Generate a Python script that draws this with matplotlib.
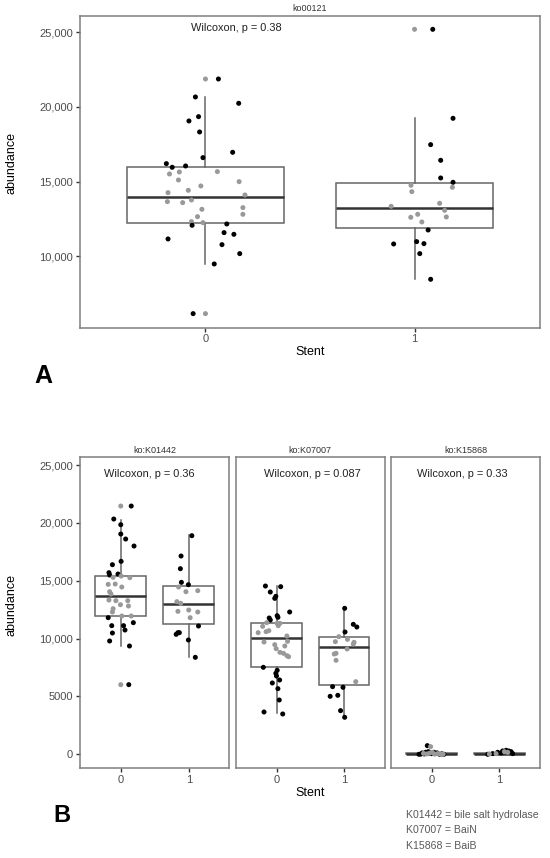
import matplotlib
matplotlib.use('Agg')
import matplotlib.pyplot as plt
from matplotlib.ticker import FixedLocator

plt.rcParams['font.family'] = ['Liberation Sans', 'DejaVu Sans']

# ---- data ----
# panel A : ko00121   (jitter offset, abundance, colour group: 'b' black / 'g' grey)
a0_jit = [0.000, 0.062, -0.048, 0.159, -0.033, -0.079, -0.028, -0.012, 0.130, -0.187, -0.159, -0.095,
          -0.172, -0.125, -0.129, 0.057, 0.161, -0.022, -0.082, -0.179, 0.189, -0.182, -0.109, -0.067,
          -0.017, 0.179, 0.179, -0.038, -0.067, -0.012, -0.064, 0.102, -0.179, 0.089, 0.136, 0.079,
          0.164, 0.042, -0.059, 0.000]
a0_val = [21874, 21874, 20670, 20245, 19352, 19062, 18326, 16607, 16964, 16205, 15960, 16049,
          15513, 15647, 15111, 15670, 15000, 14710, 14419, 14263, 14107, 13660, 13594, 13772,
          13147, 13259, 12812, 12656, 12321, 12254, 12076, 12165, 11161, 11585, 11473, 10781,
          10179, 9487, 6161, 6161]
a0_grp = list('gbbbbbbbbbbb' + 'gggggggggggg' + 'gggggg' + 'bbbbbbbbb' + 'g')
a1_jit = [0.000, 0.087, 0.184, 0.077, 0.125, 0.125, 0.184, -0.017, -0.013, 0.181, -0.112, 0.120,
          0.144, 0.015, -0.018, 0.152, 0.035, 0.065, 0.010, 0.045, -0.100, 0.025, 0.077]
a1_val = [25200, 25200, 19240, 17477, 16428, 15245, 14955, 14754, 14330, 14620, 13348, 13549,
          13080, 12812, 12611, 12634, 12299, 11763, 10982, 10848, 10826, 10179, 8460]
a1_grp = list('gbbbbbb' + 'gggggggggg' + 'bbbbbb')
# box stats: q1, median, q3, lower whisker, upper whisker
a_box = [(12250, 13950, 15957, 9485, 20643), (11894, 13213, 14886, 8480, 19237)]

# panel B1 : ko:K01442
b10_jit = [0, 0.154, -0.103, 0, 0, 0.072, 0.195, 0.005, -0.123, -0.174, -0.041, -0.164,
           -0.113, 0.005, 0.133, -0.185, -0.082, 0.015, -0.164, -0.144, -0.174, -0.072, 0.103,
           -0.005, 0.113, -0.113, -0.123, 0.015, 0.154,
           -0.185, -0.133, 0.041, 0.185, 0.062, -0.123, -0.164, 0.128, 0.118, 0]
b10_val = [21456, 21456, 20333, 19843, 19037, 18605, 18000, 16675, 16387, 15696, 15581, 15494,
           15293, 15408, 15264, 14688, 14717, 14458, 14054, 13853, 13334, 13277, 13277,
           12931, 12816, 12586, 12298, 11952, 11952,
           11808, 11117, 11117, 11376, 10742, 10483, 9792, 9360, 6019, 6019]
b10_grp = list('gbbbbbbbbbbb' + 'ggggggggggggggggg' + 'bbbbbbbbb' + 'g')
b11_jit = [0.046, -0.113, -0.123, -0.108, -0.005, -0.149, -0.041, 0.133, -0.174, -0.118,
           -0.159, 0, 0.133, 0.021, 0.144, -0.138, -0.185, -0.159, -0.005, 0.097]
b11_val = [18893, 17136, 16042, 14861, 14659, 14458, 14054, 14141, 13190, 13046,
           12355, 12470, 12298, 11808, 11088, 10512, 10368, 10512, 9878, 8381]
b11_grp = list('bbbbb' + 'ggggggggg' + 'bbbbbb')
b1_box = [(11924, 13710, 15409, 9332, 20276), (11262, 12961, 14574, 8381, 18952)]

# panel B2 : ko:K07007
b20_jit = [-0.164, 0.062, -0.092, -0.010, -0.026, 0.195, -0.108, -0.092, 0.010, 0.021,
           -0.144, -0.205, 0.010, 0.051, 0.026, -0.272, -0.113, -0.154, 0.154, 0.164, -0.185,
           -0.026, 0.123, -0.005, 0.051, 0.103, 0.154, 0.179,
           -0.195, 0.010, -0.010, 0, 0.046, -0.062, 0.021, 0.041, -0.185, 0.092]
b20_val = [14544, 14486, 14026, 13651, 13478, 12298, 11779, 11606, 11981, 11837,
           11376, 11059, 11318, 11318, 11117, 10512, 10685, 10598, 10224, 9763, 9706,
           9475, 9360, 9130, 8813, 8726, 8525, 8438,
           7517, 7258, 6998, 6768, 6422, 6163, 5674, 4694, 3657, 3485]
b20_grp = list('bbbbbbbbbb' + 'gggggggggggggggggg' + 'bbbbbbbbbb')
b21_jit = [0.010, 0.138, 0.190, 0.015, -0.077, 0.051, -0.128, 0.149, 0.138, 0.046,
           -0.144, -0.118, -0.118, 0.174, -0.169, -0.015, -0.205, -0.092, -0.051, 0.010]
b21_val = [12614, 11232, 11002, 10570, 10166, 9936, 9734, 9677, 9533, 9101,
           8669, 8726, 8122, 6278, 5846, 5789, 5011, 5098, 3773, 3197]
b21_grp = list('bbbb' + 'gggggggggg' + 'bbbbbb')
b2_box = [(7546, 10052, 11348, 3543, 14574), (5962, 9303, 10138, 3197, 12702)]

# panel B3 : ko:K15868
b30_jit = [-0.064, -0.138, -0.089, -0.049, 0.034, 0.059, 0.118, 0.182, -0.187, -0.020, 0.080,
           -0.110, 0.150, 0.000, -0.160, -0.015, 0.010, 0.090, -0.070, 0.130, -0.120, 0.040,
           0.170, -0.030]
b30_val = [749, 115, 173, 230, 173, 58, 0, 0, 0, 90, 120, 30, 40, 60, 20,
           662, 173, 60, 30, 10, 80, 20, 15, 100]
b30_grp = list('bbbbbbbbbbbbbbb' + 'ggggggggg')
b31_jit = [-0.172, -0.099, -0.025, 0.049, 0.099, 0.138, 0.172, 0.025, 0.197, 0.074, -0.049,
           0.123, -0.148]
b31_val = [0, 58, 173, 288, 345, 288, 230, 115, 58, 230, 58, 173, 30]
b31_grp = list('bbbbbbbbb' + 'gggg')
b3_box = [(0, 30, 80, 0, 200), (0, 30, 90, 0, 220)]

stent_labels = ['0', '1']
p_labels = {'A': 'Wilcoxon, p = 0.38', 'B1': 'Wilcoxon, p = 0.36',
            'B2': 'Wilcoxon, p = 0.087', 'B3': 'Wilcoxon, p = 0.33'}
strip_titles = {'A': 'ko00121', 'B1': 'ko:K01442', 'B2': 'ko:K07007', 'B3': 'ko:K15868'}
legend_lines = ['K01442 = bile salt hydrolase', 'K07007 = BaiN', 'K15868 = BaiB']

W, H = 550, 858
fig = plt.figure(figsize=(W / 100, H / 100), dpi=100)

BOXCOL = '#666666'
SPINE = '#7f7f7f'
TXT = '#4d4d4d'


def px_axes(x0, y0, x1, y1):
    return fig.add_axes([x0 / W, 1 - y1 / H, (x1 - x0) / W, (y1 - y0) / H])


def draw_panel(ax, boxes, groups, ylim, title, ptext, ptext_x, ptext_y):
    stats = []
    for q1, med, q3, lo, hi in boxes:
        stats.append({'q1': q1, 'med': med, 'q3': q3, 'whislo': lo, 'whishi': hi, 'fliers': []})
    ax.bxp(stats, positions=[0, 1], widths=0.75, showcaps=False, showfliers=False,
           patch_artist=True,
           boxprops=dict(facecolor='white', edgecolor=BOXCOL, linewidth=1.1),
           whiskerprops=dict(color=BOXCOL, linewidth=1.1),
           medianprops=dict(color='#333333', linewidth=1.8), zorder=1)
    for pos, (jit, val, grp) in enumerate(groups):
        cols = ['#000000' if g == 'b' else '#999999' for g in grp]
        ax.scatter([pos + j for j in jit], val, s=13, c=cols, linewidths=0, zorder=3)
    ax.set_xlim(-0.6, 1.6)
    ax.set_ylim(*ylim)
    ax.set_xticks([0, 1])
    ax.set_xticklabels(stent_labels)
    for sp in ax.spines.values():
        sp.set_color(SPINE)
        sp.set_linewidth(1.1)
    ax.tick_params(axis='both', length=3, width=1, color='#333333', labelcolor=TXT,
                   labelsize=8, pad=2)
    ax.set_title(title, fontsize=6.5, color='#333333', pad=3)
    ax.text(ptext_x, ptext_y, ptext, transform=ax.transAxes, ha='left', va='center',
            fontsize=7.9, color='#222222')


# ---- panel A ----
axA = px_axes(80, 15.5, 540, 327.5)
draw_panel(axA, a_box, [(a0_jit, a0_val, a0_grp), (a1_jit, a1_val, a1_grp)],
           (5232, 26125), strip_titles['A'], p_labels['A'], 0.242, 0.96)
axA.yaxis.set_major_locator(FixedLocator([10000, 15000, 20000, 25000]))
axA.set_yticklabels(['10,000', '15,000', '20,000', '25,000'])
fig.text(11.5 / W, 1 - 163 / H, 'abundance', rotation=90, ha='center', va='center', fontsize=9)
fig.text(310 / W, 1 - 352 / H, 'Stent', ha='center', va='center', fontsize=9)
fig.text(43 / W, 1 - 376 / H, 'A', ha='center', va='center', fontsize=18, fontweight='bold')

# ---- panel B ----
b_ylim = (-1210, 25720)
b_panels = [
    (80, 229.5, b1_box, [(b10_jit, b10_val, b10_grp), (b11_jit, b11_val, b11_grp)], 'B1', 0.158),
    (236, 384.5, b2_box, [(b20_jit, b20_val, b20_grp), (b21_jit, b21_val, b21_grp)], 'B2', 0.191),
    (391, 540, b3_box, [(b30_jit, b30_val, b30_grp), (b31_jit, b31_val, b31_grp)], 'B3', 0.174),
]
for i, (x0, x1, box, grps, key, tx) in enumerate(b_panels):
    ax = px_axes(x0, 456.7, x1, 768.3)
    draw_panel(ax, box, grps, b_ylim, strip_titles[key], p_labels[key], tx, 0.945)
    if i == 0:
        ax.yaxis.set_major_locator(FixedLocator([0, 5000, 10000, 15000, 20000, 25000]))
        ax.set_yticklabels(['0', '5000', '10,000', '15,000', '20,000', '25,000'])
    else:
        ax.set_yticks([])

fig.text(11.5 / W, 1 - 605 / H, 'abundance', rotation=90, ha='center', va='center', fontsize=9)
fig.text(310 / W, 1 - 793 / H, 'Stent', ha='center', va='center', fontsize=9)
fig.text(62 / W, 1 - 815 / H, 'B', ha='center', va='center', fontsize=17, fontweight='bold')

for k, line in enumerate(legend_lines):
    fig.text(406 / W, 1 - (815 + 15.3 * k) / H, line, ha='left', va='center',
             fontsize=7.6, color='#595959')

fig.savefig('out.png', dpi=100, facecolor='white')
